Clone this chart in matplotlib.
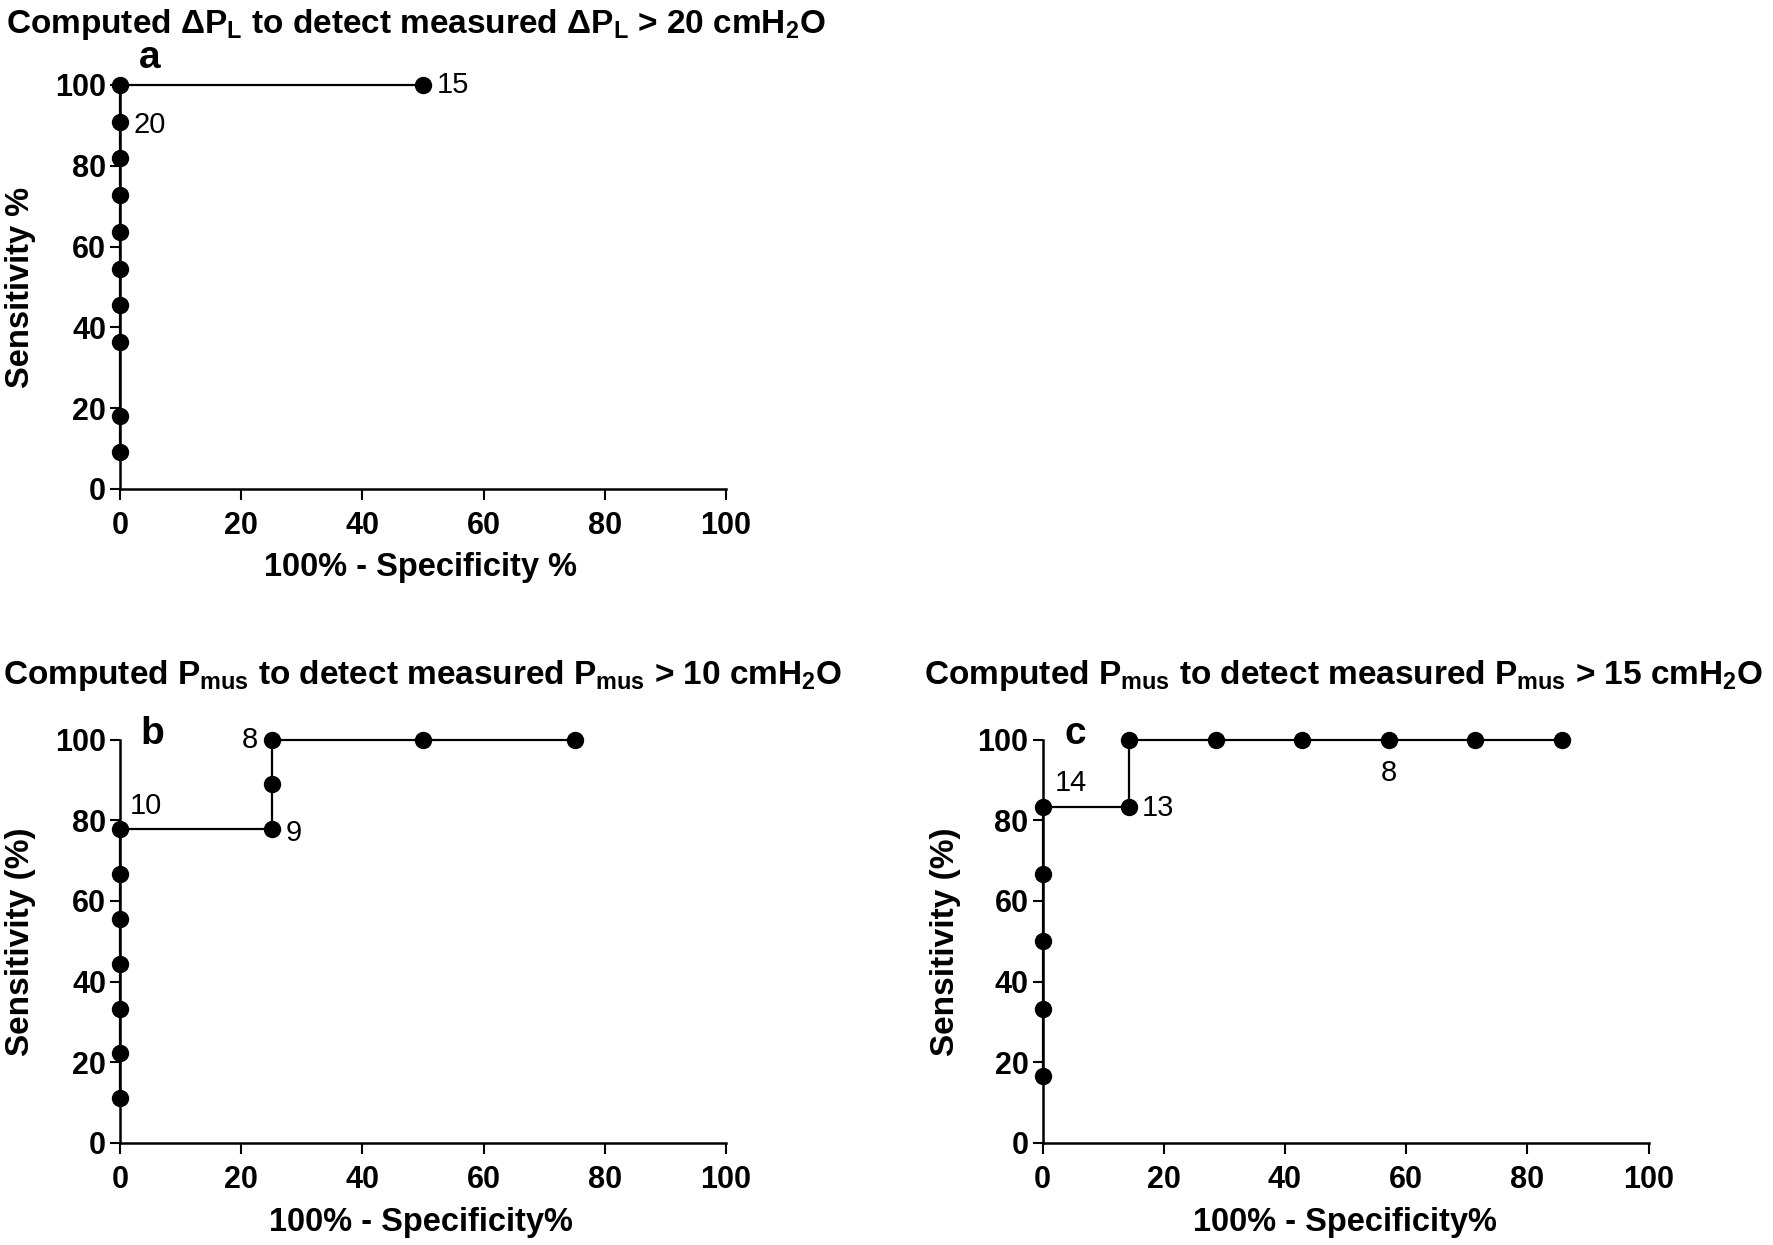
import matplotlib
matplotlib.use('Agg')
import matplotlib.pyplot as plt
from matplotlib import font_manager

# ROC points (100% - specificity, sensitivity)
a_fpr = [0, 0, 0, 0, 0, 0, 0, 0, 0, 0, 50]
a_sens = [9.09, 18.18, 36.36, 45.45, 54.55, 63.64, 72.73, 81.82, 90.91, 100, 100]
b_fpr = [0, 0, 0, 0, 0, 0, 0, 25, 25, 25, 50, 75]
b_sens = [11.11, 22.22, 33.33, 44.44, 55.56, 66.67, 77.78, 77.78, 88.89, 100, 100, 100]
c_fpr = [0, 0, 0, 0, 0, 14.29, 14.29, 28.57, 42.86, 57.14, 71.43, 85.71]
c_sens = [16.67, 33.33, 50, 66.67, 83.33, 83.33, 100, 100, 100, 100, 100, 100]

# cut-off labels: (index of point, text, offset in points, ha)
a_labels = [(10, '15', (10, 0), 'left'), (8, '20', (10, -2), 'left')]
b_labels = [(6, '10', (7, 17), 'left'), (7, '9', (10, -3), 'left'), (9, '8', (-10, 0), 'right')]
c_labels = [(4, '14', (9, 17), 'left'), (5, '13', (9, -1), 'left'), (9, '8', (0, -24), 'center')]

ticks = [0, 20, 40, 60, 80, 100]

names = {f.name for f in font_manager.fontManager.ttflist}
FONT = 'Liberation Sans Narrow' if 'Liberation Sans Narrow' in names else 'Liberation Sans'
plt.rcParams['font.family'] = [FONT, 'DejaVu Sans']
plt.rcParams['font.weight'] = 'bold'
plt.rcParams['mathtext.default'] = 'regular'

W, H = 1773, 1245
fig = plt.figure(figsize=(W / 100, H / 100), dpi=100)


def px_axes(x0, x1, ytop, ybot):
    return fig.add_axes([x0 / W, 1 - ybot / H, (x1 - x0) / W, (ybot - ytop) / H])


def roc(ax, fpr, sens, labels):
    ax.plot(fpr, sens, color='black', lw=1.6, marker='o', ms=11.5, clip_on=False, zorder=3)
    for i, txt, off, ha in labels:
        ax.annotate(txt, (fpr[i], sens[i]), xytext=off, textcoords='offset points',
                    ha=ha, va='center', fontsize=21, fontweight='normal',
                    family=['Liberation Sans', 'DejaVu Sans'])
    ax.set_xlim(0, 100)
    ax.set_ylim(0, 100)
    ax.set_xticks(ticks)
    ax.set_yticks(ticks)
    for s in ['top', 'right']:
        ax.spines[s].set_visible(False)
    for s in ['left', 'bottom']:
        ax.spines[s].set_linewidth(1.8)
    ax.tick_params(axis='x', length=8, width=1.5, pad=8, labelsize=22)
    ax.tick_params(axis='y', length=7, width=1.5, pad=3, labelsize=22)
    for lab in ax.get_xticklabels() + ax.get_yticklabels():
        lab.set_fontweight('bold')


ax_a = px_axes(120, 726, 85, 489)
roc(ax_a, a_fpr, a_sens, a_labels)
ax_b = px_axes(120, 726, 739.5, 1143)
roc(ax_b, b_fpr, b_sens, b_labels)
ax_c = px_axes(1042.5, 1648.5, 739.5, 1143)
roc(ax_c, c_fpr, c_sens, c_labels)

tkw = dict(fontsize=24, fontweight='bold', va='top', ha='left')
fig.text(6 / W, 1 - 7 / H, 'Computed \u0394P$_L$ to detect measured \u0394P$_L$ > 20 cmH$_2$O', **tkw)
fig.text(3 / W, 1 - 658 / H, 'Computed P$_{mus}$ to detect measured P$_{mus}$ > 10 cmH$_2$O', **tkw)
fig.text(924 / W, 1 - 658 / H, 'Computed P$_{mus}$ to detect measured P$_{mus}$ > 15 cmH$_2$O', **tkw)

pkw = dict(fontsize=28, fontweight='bold', ha='center', va='center')
fig.text(150 / W, 1 - 58 / H, 'a', **pkw)
fig.text(152 / W, 1 - 734 / H, 'b', **pkw)
fig.text(1075 / W, 1 - 734 / H, 'c', **pkw)

xkw = dict(fontsize=23.5, fontweight='bold', ha='center', va='center')
fig.text(421 / W, 1 - 567 / H, '100% - Specificity %', **xkw)
fig.text(421 / W, 1 - 1222 / H, '100% - Specificity%', **xkw)
fig.text(1345 / W, 1 - 1222 / H, '100% - Specificity%', **xkw)

ykw = dict(fontsize=23.5, fontweight='bold', ha='center', va='center', rotation=90,
           family=['Liberation Sans', 'DejaVu Sans'])
fig.text(21 / W, 1 - 287 / H, 'Sensitivity %', **ykw)
ykw['fontsize'] = 24
fig.text(21 / W, 1 - 942 / H, 'Sensitivity (%)', **ykw)
fig.text(945 / W, 1 - 942 / H, 'Sensitivity (%)', **ykw)

fig.savefig('out.png', dpi=100)
